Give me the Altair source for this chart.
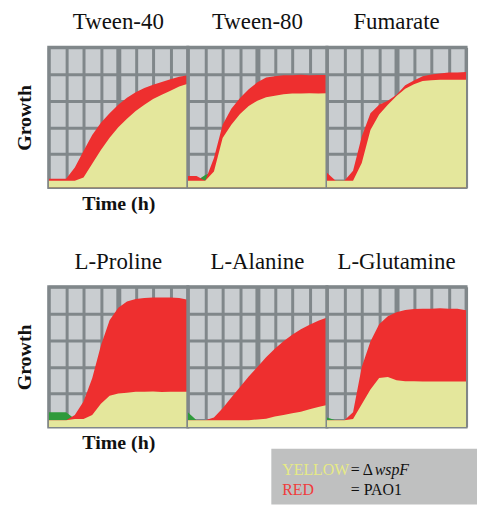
import altair as alt
import pandas as pd

# ---- data (growth, time in grid columns 0..8) ----
TIME = [0, 0.5, 1, 1.5, 2, 2.5, 3, 3.5, 4, 4.5, 5, 5.5, 6, 6.5, 7, 7.5, 8]
TITLES = ["Tween-40", "Tween-80", "Fumarate", "L-Proline", "L-Alanine", "L-Glutamine"]

TWEEN40_PAO1 = [0.08, 0.08, 0.08, 0.5, 1.12, 1.72, 2.17, 2.53, 2.85, 3.11, 3.32, 3.48, 3.6, 3.7, 3.8, 3.9, 3.95]
TWEEN40_WSPF = [0.0, 0.0, 0.0, 0.0, 0.12, 0.64, 1.15, 1.61, 2.01, 2.32, 2.61, 2.85, 3.06, 3.22, 3.37, 3.53, 3.64]
TWEEN80_PAO1 = [0.18, 0.18, 0.0, 0.85, 2.1, 2.7, 3.1, 3.43, 3.69, 3.87, 3.92, 3.95, 3.95, 3.97, 3.95, 3.96, 3.96]
TWEEN80_WSPF = [0.0, 0.0, 0.22, 0.35, 1.6, 2.1, 2.5, 2.8, 3.0, 3.13, 3.19, 3.24, 3.27, 3.27, 3.28, 3.27, 3.28]
FUMARATE_PAO1 = [0.3, 0.0, 0.0, 0.38, 1.66, 2.53, 2.85, 3.0, 3.22, 3.58, 3.76, 3.92, 3.98, 4.02, 4.06, 4.06, 4.08]
FUMARATE_WSPF = [0.0, 0.0, 0.0, 0.0, 0.67, 1.9, 2.48, 2.85, 3.18, 3.45, 3.62, 3.74, 3.77, 3.79, 3.79, 3.79, 3.79]
PROLINE_PAO1 = [0.0, 0.0, 0.0, 0.2, 0.7, 1.57, 2.8, 3.75, 4.22, 4.45, 4.54, 4.58, 4.6, 4.6, 4.6, 4.58, 4.52]
PROLINE_WSPF = [0.3, 0.3, 0.3, 0.05, 0.05, 0.2, 0.62, 0.92, 1.0, 1.03, 1.07, 1.07, 1.08, 1.06, 1.07, 1.07, 1.07]
ALANINE_PAO1 = [0.0, 0.0, 0.0, 0.1, 0.45, 0.85, 1.25, 1.64, 2.0, 2.36, 2.68, 2.96, 3.2, 3.41, 3.58, 3.73, 3.85]
ALANINE_WSPF = [0.3, 0.0, 0.0, 0.0, 0.0, 0.0, 0.0, 0.0, 0.03, 0.06, 0.14, 0.2, 0.26, 0.32, 0.41, 0.5, 0.57]
GLUTAMINE_PAO1 = [0.0, 0.0, 0.0, 0.3, 2.0, 2.95, 3.6, 3.9, 4.05, 4.13, 4.17, 4.18, 4.18, 4.2, 4.18, 4.18, 4.12]
GLUTAMINE_WSPF = [0.1, 0.0, 0.0, 0.05, 0.6, 1.15, 1.58, 1.62, 1.5, 1.46, 1.46, 1.45, 1.45, 1.45, 1.45, 1.45, 1.45]

PAO1 = [TWEEN40_PAO1, TWEEN80_PAO1, FUMARATE_PAO1, PROLINE_PAO1, ALANINE_PAO1, GLUTAMINE_PAO1]
WSPF = [TWEEN40_WSPF, TWEEN80_WSPF, FUMARATE_WSPF, PROLINE_WSPF, ALANINE_WSPF, GLUTAMINE_WSPF]

GRID_X = [0, 1, 2, 3, 4, 5, 6, 7, 8]
GRID_Y = [0, 1, 2, 3, 4, 5]

# ---- styles ----
RED = "#ee2f2f"
YELLOW = "#e4e79c"
GREEN = "#2f9a3b"
CELL = "#c9cdd0"
LINE = "#80878a"
SERIF = "Liberation Serif"
W, H = 140, 141

xs = alt.Scale(domain=[0, 8], nice=False, zero=False)
ys = alt.Scale(domain=[-0.25, 5], nice=False, zero=False)


def panel(i):
    df = pd.DataFrame({"t": TIME, "pao1": PAO1[i], "wspf": WSPF[i]})
    first = i % 3 == 0
    xkw = dict(values=GRID_X, labels=False, ticks=False, domain=False, grid=True,
               gridColor=LINE, gridOpacity=1,
               gridWidth={"condition": {"test": "datum.value === 4", "value": 5}, "value": 3})
    ykw = dict(values=GRID_Y, labels=False, ticks=False, domain=False, grid=True,
               gridColor=LINE, gridOpacity=1, gridWidth=3)
    if first:
        xkw.update(title="Time (h)", titlePadding=6)
        ykw.update(title="Growth", titlePadding=14)
    else:
        xkw.update(title=None)
        ykw.update(title=None)
    xax = alt.Axis(**xkw)
    yax = alt.Axis(**ykw)
    x = alt.X("t:Q", scale=xs, axis=xax)
    base = alt.Chart(df)
    green = base.mark_area(color=GREEN, clip=True).encode(
        x=x, y=alt.Y("wspf:Q", scale=ys, axis=yax), y2=alt.datum(-0.25))
    red = base.mark_area(color=RED, clip=True).encode(
        x=x, y=alt.Y("pao1:Q", scale=ys, axis=yax), y2=alt.datum(-0.25))
    yellow = base.transform_calculate(both="min(datum.pao1, datum.wspf)").mark_area(
        color=YELLOW, clip=True).encode(
        x=x, y=alt.Y("both:Q", scale=ys, axis=yax), y2=alt.datum(-0.25))
    layers = [green, red, yellow]
    if i == 5:
        leg = pd.DataFrame({"a": [0]})
        lb = alt.Chart(leg)
        box = lb.mark_rect(color="#bfc0c0").encode(
            x=alt.value(-56), x2=alt.value(151), y=alt.value(163), y2=alt.value(219))
        t_kw = dict(font=SERIF, fontSize=16, align="left", baseline="alphabetic")
        t1 = lb.mark_text(color="#e6ea86", **t_kw).encode(
            x=alt.value(-45), y=alt.value(189), text=alt.value("YELLOW"))
        t2 = lb.mark_text(color="#111111", **t_kw).encode(
            x=alt.value(24), y=alt.value(189), text=alt.value("= Δ"))
        t3 = lb.mark_text(color="#111111", fontStyle="italic", **t_kw).encode(
            x=alt.value(48), y=alt.value(189), text=alt.value("wspF"))
        t4 = lb.mark_text(color="#f03c3c", **t_kw).encode(
            x=alt.value(-45), y=alt.value(210), text=alt.value("RED"))
        t5 = lb.mark_text(color="#111111", **t_kw).encode(
            x=alt.value(24), y=alt.value(210), text=alt.value("= PAO1"))
        layers += [box, t1, t2, t3, t4, t5]
    return alt.layer(*layers).properties(
        width=W, height=H,
        title=alt.Title(TITLES[i], font=SERIF, fontSize=23, fontWeight="normal",
                        color="#111111", offset=13))


chart = alt.concat(*[panel(i) for i in range(6)], columns=3,
                   spacing={"row": 100, "column": 0}, bounds="flush").properties(
    padding={"left": 5, "top": 0, "right": 0, "bottom": 0}
).configure_view(
    fill=CELL, stroke=LINE, strokeWidth=3
).configure_axis(
    titleFont=SERIF, titleFontSize=20, titleFontWeight="bold", titleColor="#111111"
)

chart.save("out.html", embed_options={"renderer": "svg", "actions": False})
